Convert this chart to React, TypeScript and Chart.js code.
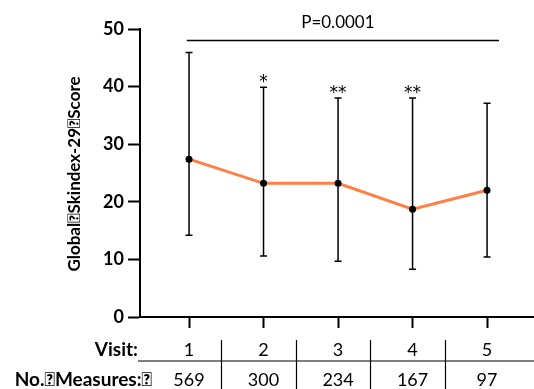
import React, { useEffect, useRef } from "react";
import { Chart, registerables } from "chart.js";

Chart.register(...registerables);

const visits = [1, 2, 3, 4, 5];
const means = [27.4, 23.2, 23.2, 18.7, 22.0];
const upper = [45.9, 39.9, 38.0, 38.0, 37.1];
const lower = [14.2, 10.6, 9.7, 8.3, 10.4];
const measures = ["569", "300", "234", "167", "97"];
const stars = ["", "*", "**", "**", ""];
const yTicks = [0, 10, 20, 30, 40, 50];
const pLabel = "P=0.0001";
const yTitle = "Global\uE000Skindex-29\uE000Score";
const visitLabel = "Visit:";
const measuresLabel = "No.\uE000Measures:\uE000";

const FONT = "Lato, 'Open Sans', sans-serif";

export default function App() {
  const ref = useRef<HTMLCanvasElement | null>(null);
  useEffect(() => {
    const canvas = ref.current;
    if (!canvas) return;

    const overlay = {
      id: "overlay",
      beforeDatasetsDraw(chart: any) {
        const ctx = chart.ctx;
        const xs = chart.scales.x;
        const ys = chart.scales.y;
        ctx.save();
        ctx.strokeStyle = "#000";
        ctx.lineWidth = 1.5;
        visits.forEach((v, i) => {
          const x = xs.getPixelForValue(v);
          const yu = ys.getPixelForValue(upper[i]);
          const yl = ys.getPixelForValue(lower[i]);
          ctx.beginPath();
          ctx.moveTo(x, yu);
          ctx.lineTo(x, yl);
          ctx.moveTo(x - 3.5, yu);
          ctx.lineTo(x + 3.5, yu);
          ctx.moveTo(x - 3.5, yl);
          ctx.lineTo(x + 3.5, yl);
          ctx.stroke();
        });
        ctx.restore();
      },
      afterDraw(chart: any) {
        const ctx = chart.ctx;
        const xs = chart.scales.x;
        const ys = chart.scales.y;
        const area = chart.chartArea;
        ctx.save();
        ctx.fillStyle = "#000";
        ctx.strokeStyle = "#000";

        // significance bracket
        const by = ys.getPixelForValue(48);
        const bx1 = xs.getPixelForValue(0.97);
        const bx2 = xs.getPixelForValue(5.16);
        ctx.lineWidth = 1.5;
        ctx.beginPath();
        ctx.moveTo(bx1, by);
        ctx.lineTo(bx2, by);
        ctx.stroke();
        ctx.font = "17px " + FONT;
        ctx.textAlign = "center";
        ctx.textBaseline = "middle";
        ctx.fillText(pLabel, (bx1 + bx2) / 2 - 5, by - 18);

        // stars
        ctx.font = "17px 'DejaVu Sans', sans-serif";
        ctx.textBaseline = "alphabetic";
        visits.forEach((v, i) => {
          if (!stars[i]) return;
          ctx.fillText(stars[i], xs.getPixelForValue(v), ys.getPixelForValue(upper[i]));
        });

        // y title
        ctx.save();
        ctx.translate(75, 174);
        ctx.rotate(-Math.PI / 2);
        ctx.font = "bold 17px " + FONT;
        ctx.textAlign = "center";
        ctx.textBaseline = "middle";
        ctx.fillText(yTitle, 0, 0);
        ctx.restore();

        // table
        const rowY1 = area.bottom + 33;
        const rowY2 = area.bottom + 63;
        ctx.font = "bold 19px " + FONT;
        ctx.textAlign = "right";
        ctx.textBaseline = "middle";
        ctx.fillText(visitLabel, area.left - 2, rowY1);
        ctx.fillText(measuresLabel, area.left + 12, rowY2);
        ctx.font = "18px " + FONT;
        ctx.textAlign = "center";
        visits.forEach((v, i) => {
          const x = xs.getPixelForValue(v);
          ctx.fillText(String(v), x, rowY1);
          ctx.fillText(measures[i], x, rowY2);
        });
        ctx.lineWidth = 1.2;
        ctx.beginPath();
        const hy = area.bottom + 44;
        ctx.moveTo(area.left - 2, hy);
        ctx.lineTo(chart.width, hy);
        for (let i = 0; i < visits.length - 1; i++) {
          const sx = Math.round(xs.getPixelForValue(visits[i] + 0.43)) + 0.5;
          ctx.moveTo(sx, area.bottom + 23);
          ctx.lineTo(sx, chart.height);
        }
        ctx.stroke();
        ctx.restore();
      },
    };

    const chart = new Chart(canvas, {
      type: "line",
      data: {
        datasets: [
          {
            data: visits.map((v, i) => ({ x: v, y: means[i] })),
            borderColor: "#FF7F45",
            borderWidth: 3,
            pointRadius: 3.5,
            pointBackgroundColor: "#000",
            pointBorderWidth: 0,
            tension: 0,
          },
        ],
      },
      plugins: [overlay],
      options: {
        responsive: false,
        animation: false,
        layout: { autoPadding: false, padding: { top: 29, right: 0, bottom: 0, left: 0 } },
        plugins: { legend: { display: false }, tooltip: { enabled: false } },
        scales: {
          x: {
            type: "linear",
            min: 0.342,
            max: 5.63,
            afterFit: (s: any) => {
              s.height = 72;
            },
            afterBuildTicks: (s: any) => {
              s.ticks = visits.map((v) => ({ value: v }));
            },
            border: { display: true, color: "#000", width: 2 },
            grid: {
              drawOnChartArea: false,
              drawTicks: true,
              tickLength: 11,
              tickWidth: 2,
              tickColor: "#000",
            },
            ticks: { display: false },
          },
          y: {
            min: 0,
            max: 50,
            afterFit: (s: any) => {
              s.width = 140;
            },
            afterBuildTicks: (s: any) => {
              s.ticks = yTicks.map((v) => ({ value: v }));
            },
            border: { display: true, color: "#000", width: 2 },
            grid: {
              drawOnChartArea: false,
              drawTicks: true,
              tickLength: 12,
              tickWidth: 2,
              tickColor: "#000",
            },
            ticks: {
              color: "#000",
              padding: 4,
              font: { family: FONT, size: 18, weight: "bold" },
            },
          },
        },
      },
    } as any);
    return () => chart.destroy();
  }, []);

  return (
    <div style={{ position: "absolute", left: 0, top: 0, width: 534, height: 389, background: "#fff" }}>
      <canvas ref={ref} width={534} height={389} style={{ width: 534, height: 389 }} />
    </div>
  );
}
